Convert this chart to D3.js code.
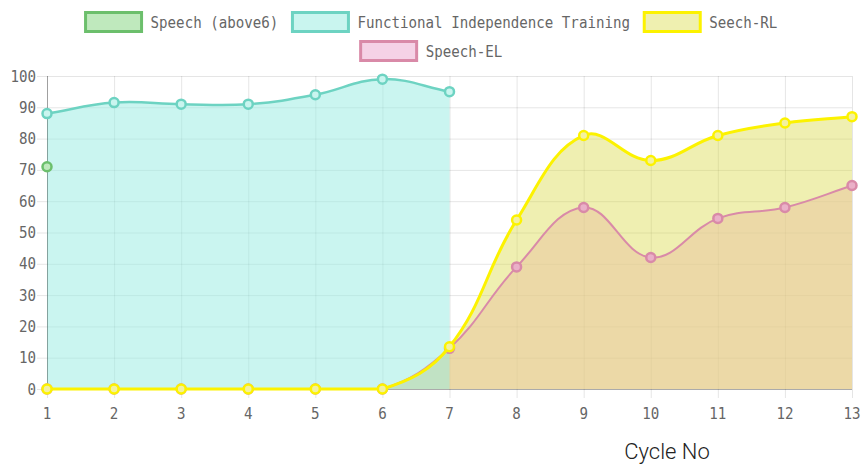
<!DOCTYPE html>
<html>
<head>
<meta charset="utf-8">
<script src="https://cdn.jsdelivr.net/npm/d3@7"></script>
<style>
body{margin:0;background:#fff;}
text{font-family:"DejaVu Sans Mono",monospace;}
</style>
</head>
<body>
<script>
const W = 862, H = 470;
var cycles = [1,2,3,4,5,6,7,8,9,10,11,12,13];
var yTicks = [0,10,20,30,40,50,60,70,80,90,100];
var speechAbove6 = [71,null,null,null,null,null,null,null,null,null,null,null,null];
var fit = [88,91.5,91,91,94,99,95,null,null,null,null,null,null];
var seechRL = [0,0,0,0,0,0,13.5,54,81,73,81,85,87];
var speechEL = [0,0,0,0,0,0,13,39,58,42,54.5,58,65];
var seriesNames = ["Speech (above6)","Functional Independence Training","Seech-RL","Speech-EL"];

var styles = [
	{line:"#6cbf6c", fill:"rgba(150,220,150,0.6)", box:"#bfe9bd", pt:"#bfe9bd", w:2.5},
	{line:"#6dd3c2", fill:"rgba(150,235,225,0.5)", box:"#c9f5ef", pt:"#c9f5ef", w:2.5},
	{line:"#fcf200", fill:"rgba(215,215,60,0.4)", box:"#eff0b0", pt:"#f3f1a0", w:3},
	{line:"#d98aa8", fill:"rgba(245,190,225,0.55)", box:"#f5d2e6", pt:"#eab0c8", w:2}
];
var allData = [speechAbove6, fit, seechRL, speechEL];

const pLeft = 47, pRight = 852, pTop = 76, pBottom = 389;
const sx = 0.885; // narrow the mono glyphs

var svg = d3.select("body").append("svg")
	.attr("width",W).attr("height",H);

var x = d3.scaleLinear().domain([1,13]).range([pLeft,pRight]);
var y = d3.scaleLinear().domain([0,100]).range([pBottom,pTop]);

// grid
var grid = svg.append("g");
grid.selectAll("line.h").data(yTicks).enter().append("line")
	.attr("x1",pLeft-10).attr("x2",pRight)
	.attr("y1",function(d){return y(d)+0.5}).attr("y2",function(d){return y(d)+0.5})
	.attr("stroke","rgba(0,0,0,0.1)");
grid.selectAll("line.v").data(cycles).enter().append("line")
	.attr("x1",function(d){return x(d)+0.5}).attr("x2",function(d){return x(d)+0.5})
	.attr("y1",pTop).attr("y2",pBottom+9)
	.attr("stroke","rgba(0,0,0,0.1)");

// chart.js style spline
function splinePoints(pts){
	var t = 0.4, out = [];
	for(var i=0;i<pts.length;i++){
		var cur = pts[i], prev = pts[i-1]||cur, next = pts[i+1]||cur;
		var d01 = Math.hypot(cur[0]-prev[0],cur[1]-prev[1]);
		var d12 = Math.hypot(next[0]-cur[0],next[1]-cur[1]);
		var s01 = d01/(d01+d12), s12 = d12/(d01+d12);
		if(isNaN(s01)) s01 = 0;
		if(isNaN(s12)) s12 = 0;
		var fa = t*s01, fb = t*s12;
		var cp1 = [cur[0]-fa*(next[0]-prev[0]), cur[1]-fa*(next[1]-prev[1])];
		var cp2 = [cur[0]+fb*(next[0]-prev[0]), cur[1]+fb*(next[1]-prev[1])];
		cp1[1] = Math.max(pTop,Math.min(pBottom,cp1[1]));
		cp2[1] = Math.max(pTop,Math.min(pBottom,cp2[1]));
		out.push({p:cur,cp1:cp1,cp2:cp2});
	}
	return out;
}
function linePath(pts){
	var s = splinePoints(pts);
	var d = "M"+s[0].p[0]+","+s[0].p[1];
	for(var i=1;i<s.length;i++){
		d += "C"+s[i-1].cp2[0]+","+s[i-1].cp2[1]+" "+s[i].cp1[0]+","+s[i].cp1[1]+" "+s[i].p[0]+","+s[i].p[1];
	}
	return d;
}
function toPts(data){
	var pts = [];
	data.forEach(function(v,i){ if(v!==null) pts.push([x(cycles[i]),y(v)]); });
	return pts;
}

// fills, last dataset drawn first
var fillGroup = svg.append("g");
for(var k=allData.length-1;k>=0;k--){
	var pts = toPts(allData[k]);
	if(pts.length<2) continue;
	fillGroup.append("path")
		.attr("d",linePath(pts)+"L"+pts[pts.length-1][0]+","+y(0)+"L"+pts[0][0]+","+y(0)+"Z")
		.attr("fill",styles[k].fill);
}

// axes lines
svg.append("line").attr("x1",pLeft+0.5).attr("x2",pLeft+0.5).attr("y1",pTop).attr("y2",pBottom)
	.attr("stroke","rgba(0,0,0,0.3)");
svg.append("line").attr("x1",pLeft).attr("x2",pRight).attr("y1",pBottom+0.5).attr("y2",pBottom+0.5)
	.attr("stroke","rgba(0,0,0,0.25)");

// lines and points
for(var k=allData.length-1;k>=0;k--){
	var pts = toPts(allData[k]);
	if(pts.length>1){
		svg.append("path").attr("d",linePath(pts))
			.attr("fill","none").attr("stroke",styles[k].line).attr("stroke-width",styles[k].w);
	}
	svg.append("g").selectAll("circle").data(pts).enter().append("circle")
		.attr("cx",function(d){return d[0]}).attr("cy",function(d){return d[1]})
		.attr("r",4.5)
		.attr("fill",styles[k].pt)
		.attr("stroke",styles[k].line).attr("stroke-width",2.5);
}

// tick labels (narrowed)
svg.append("g").selectAll("text").data(yTicks).enter().append("text")
	.attr("transform",function(d){return "translate("+(pLeft-11)+","+(y(d)+5.5)+") scale("+sx+",1)"})
	.attr("text-anchor","end").attr("font-size","16px").attr("fill","#666")
	.text(function(d){return d});
svg.append("g").selectAll("text").data(cycles).enter().append("text")
	.attr("transform",function(d){return "translate("+x(d)+","+(pBottom+30)+") scale("+sx+",1)"})
	.attr("text-anchor","middle").attr("font-size","16px").attr("fill","#666")
	.text(function(d){return d});

svg.append("text").attr("x",667).attr("y",459)
	.attr("text-anchor","middle").attr("font-size","22px").attr("fill","#222")
	.style("font-family","Roboto, sans-serif").style("font-weight","300")
	.text("Cycle No");

// legend
var rows = [[0,1,2],[3]];
var boxW = 58, boxH = 19, gapText = 8, gapItem = 13;
rows.forEach(function(row,ri){
	var g = svg.append("g");
	var cx = 0, items = [];
	row.forEach(function(k){
		var t = g.append("text").attr("font-size","16px").attr("fill","#666").text(seriesNames[k]);
		var tw = t.node().getComputedTextLength()*sx;
		items.push({k:k,t:t,x:cx,tw:tw});
		cx += boxW + gapText + tw + gapItem;
	});
	var total = cx - gapItem;
	var x0 = W/2 - total/2;
	var yc = 22 + ri*29;
	items.forEach(function(it){
		g.append("rect").attr("x",x0+it.x+1).attr("y",yc-boxH/2)
			.attr("width",boxW-2).attr("height",boxH)
			.attr("fill",styles[it.k].box).attr("stroke",styles[it.k].line).attr("stroke-width",3);
		it.t.attr("transform","translate("+(x0+it.x+boxW+gapText)+","+(yc+5.5)+") scale("+sx+",1)");
	});
});
</script>
</body>
</html>
